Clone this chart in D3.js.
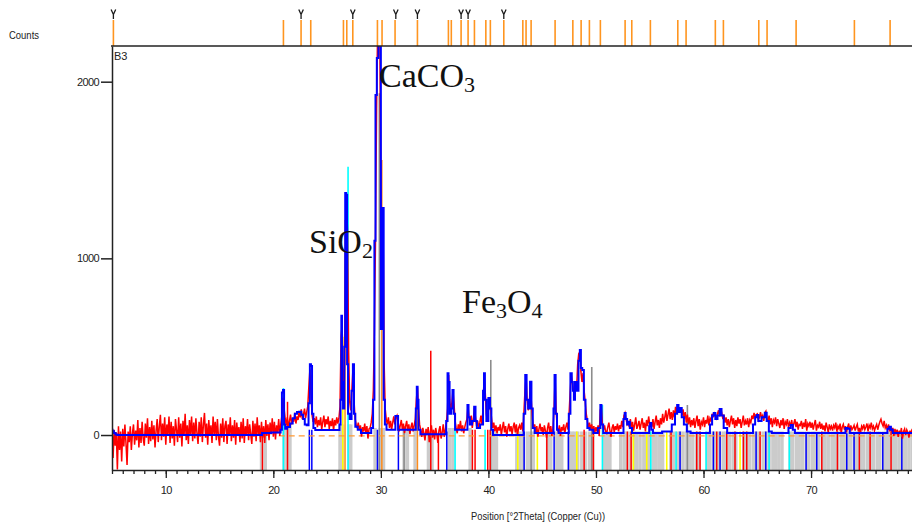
<!DOCTYPE html>
<html><head><meta charset="utf-8">
<script src="https://cdn.jsdelivr.net/npm/d3@7"></script>
<style>
html,body{margin:0;padding:0;background:#fff;}
svg{display:block;}
.small{font-family:"Liberation Sans","Arial",sans-serif;fill:#222;}
.phase{font-family:"Liberation Serif","Times New Roman",serif;fill:#111;}
</style></head><body>
<svg id="chart" width="912" height="525"></svg>
<script>
// Scan B3, observed counts every 0.1 °2θ starting at 5.0
const obsStart = 5.0, obsStep = 0.1;
const observedCounts = [
  45,-130,30,-60,15,-195,50,-85,20,-150,      // 5
  35,-65,60,-45,-170,20,-40,50,-85,10,        // 6
  60,-55,25,-30,85,-70,40,-45,75,-20,         // 7
  -60,65,-15,95,-50,45,-35,80,-25,55,         // 8
  -70,25,90,-40,50,115,-30,65,-10,100,        // 9
  -55,60,-5,105,-45,75,-20,50,-60,90,         // 10
  30,-40,100,-15,65,-65,80,-5,120,-30,        // 11
  55,-50,85,0,105,-35,70,-20,95,10,           // 12
  -50,75,-10,100,-40,60,125,-15,65,-55,       // 13
  85,-5,55,-45,105,5,75,-30,90,-10,           // 14
  -60,65,-15,95,-40,50,80,-50,60,-5,          // 15
  100,-35,55,-15,85,-55,70,0,45,-40,          // 16
  75,-20,95,-45,50,-5,90,-30,60,5,            // 17
  -50,80,-10,65,-35,100,0,55,-40,75,          // 18
  -15,50,-45,85,-5,60,-30,70,5,95,            // 19
  -10,75,-25,55,10,90,-5,65,110,210,          // 20
  150,95,55,100,40,80,115,60,95,75,           // 21
  125,65,105,85,135,100,145,90,115,150,       // 22
  95,130,160,270,370,240,115,75,95,60,        // 23
  105,45,85,55,100,30,75,110,45,90,           // 24
  60,105,35,80,50,95,25,85,55,100,            // 25
  65,95,160,560,620,230,320,950,1340,1150,    // 26
  480,190,140,250,370,200,95,60,40,70,        // 27
  30,55,-10,45,20,65,10,50,-20,35,            // 28
  40,70,120,250,600,1100,1850,2300,2350,2300, // 29
  1400,900,1250,420,150,90,60,100,40,80,      // 30
  30,70,105,60,95,110,75,20,55,85,            // 31
  30,65,10,50,80,25,60,5,45,70,               // 32
  20,55,90,200,270,150,60,30,-10,40,          // 33
  10,-30,35,0,45,-40,20,55,-15,30,            // 34
  -25,40,5,-45,25,50,-20,15,60,-10,           // 35
  30,70,150,340,200,140,180,250,180,80,       // 36
  40,10,60,30,80,20,55,10,45,70,              // 37
  90,165,100,60,110,40,90,155,100,50,         // 38
  80,40,70,110,60,150,340,250,120,80,         // 39
  140,200,150,90,40,70,20,55,10,45,           // 40
  25,60,0,40,75,15,50,-10,35,65,              // 41
  20,50,5,45,70,15,60,-5,40,55,               // 42
  30,70,20,130,250,330,200,140,170,300,       // 43
  180,90,40,60,15,50,-10,35,65,20,            // 44
  45,0,55,25,-15,40,70,10,50,-5,              // 45
  40,140,330,130,40,15,55,-5,45,25,           // 46
  60,10,45,70,30,120,240,340,300,260,         // 47
  210,290,260,400,460,470,360,300,350,250,    // 48
  190,120,80,40,70,30,60,25,50,15,            // 49
  45,20,55,-5,140,165,60,30,55,20,            // 50
  10,45,70,25,-10,40,60,15,50,30,             // 51
  65,20,55,35,80,45,110,125,90,60,            // 52
  70,45,90,40,75,25,60,100,35,55,             // 53
  80,30,65,95,40,70,20,85,50,105,             // 54
  60,65,45,90,35,75,110,55,85,40,             // 55
  95,60,120,70,100,140,80,115,150,90,         // 56
  130,85,140,100,160,120,170,150,135,155,     // 57
  110,145,90,130,70,115,60,100,45,85,         // 58
  55,95,40,80,110,50,90,30,75,60,             // 59
  100,45,85,65,110,55,95,80,120,100,          // 60
  130,110,95,120,140,105,150,125,90,115,      // 61
  70,100,55,90,45,80,110,60,95,40,            // 62
  85,50,100,65,90,40,75,110,55,80,            // 63
  60,95,45,85,70,110,90,125,100,115,          // 64
  120,85,100,130,95,110,80,125,135,95,        // 65
  80,110,60,95,45,85,70,100,50,90,            // 66
  65,40,85,55,95,35,75,60,90,45,              // 67
  70,50,85,40,65,90,45,75,30,60,              // 68
  55,80,35,70,45,90,25,65,50,75,              // 69
  40,70,30,60,85,25,55,45,75,35,              // 70
  65,30,55,20,70,45,15,60,35,50,              // 71
  25,55,40,70,20,50,35,65,10,45,              // 72
  60,30,50,15,45,65,20,55,30,40,              // 73
  55,25,45,60,20,40,10,50,35,60,              // 74
  30,45,65,20,55,40,70,35,50,25,              // 75
  45,60,30,55,75,90,65,50,80,40,              // 76
  55,30,60,20,45,15,40,-5,35,10,              // 77
  30,-10,25,5,40,-20,20,35,0,30,              // 78
  15,-15,25,5,35,-25,20,0,30,10               // 79
];

// Calculated profile, [°2θ, counts]
const calcProfile = [
  [5.0,30],[5.1,22],[5.25,12],[5.4,3],[5.6,0],[18.9,0],[19.0,12],[20.6,14],[20.75,30],
  [20.85,240],[20.95,255],[21.05,60],[21.15,35],[21.4,45],[21.7,65],[21.9,95],[22.1,120],
  [22.3,130],[22.5,132],[22.7,115],[22.85,90],[23.0,60],[23.2,55],[23.35,180],[23.45,400],
  [23.55,390],[23.65,120],[23.8,40],[24.0,28],[26.1,28],[26.2,60],[26.3,200],[26.35,675],
  [26.42,300],[26.55,150],[26.65,500],[26.72,1370],[26.82,1360],[26.9,400],[27.0,120],
  [27.2,90],[27.35,250],[27.45,400],[27.55,120],[27.7,47],[28.0,30],[28.3,12],[29.0,12],
  [29.2,40],[29.35,200],[29.45,1100],[29.55,1925],[29.7,2134],[29.85,2450],[29.95,2450],
  [30.05,600],[30.15,1285],[30.22,1285],[30.3,200],[30.45,60],[30.6,30],[31.3,30],
  [31.4,108],[31.55,108],[31.65,30],[33.2,30],[33.3,150],[33.38,273],[33.45,200],
  [33.55,30],[33.8,5],[36.0,5],[36.15,80],[36.25,350],[36.33,300],[36.45,120],[36.6,150],
  [36.72,255],[36.8,120],[37.0,30],[38.0,30],[38.1,170],[38.2,100],[38.35,60],[38.6,80],
  [38.75,160],[38.85,80],[39.0,40],[39.45,60],[39.55,250],[39.63,350],[39.72,200],
  [39.9,80],[40.1,210],[40.2,150],[40.35,30],[40.5,0],[43.2,0],[43.35,120],[43.5,340],
  [43.6,200],[43.8,150],[43.95,302],[44.05,150],[44.2,40],[44.4,11],[46.0,11],[46.1,150],
  [46.2,340],[46.3,120],[46.45,30],[46.6,11],[47.4,11],[47.55,120],[47.7,350],[47.8,300],
  [47.9,250],[48.0,200],[48.1,300],[48.3,250],[48.45,420],[48.55,481],[48.65,380],
  [48.8,368],[48.95,200],[49.1,90],[49.3,40],[49.5,30],[50.0,11],[50.35,40],[50.47,170],
  [50.55,60],[50.8,11],[52.5,11],[52.62,90],[52.72,125],[52.8,90],[53.0,60],[53.1,75],
  [53.2,40],[53.5,11],[54.9,11],[55.0,50],[55.1,68],[55.2,30],[55.4,11],[56.9,20],
  [57.2,60],[57.5,120],[57.6,170],[57.75,130],[57.9,153],[58.05,100],[58.3,60],[58.6,20],
  [59.0,11],[60.5,11],[60.7,60],[60.9,110],[61.0,124],[61.2,90],[61.4,110],[61.6,147],
  [61.75,110],[62.0,40],[62.4,11],[64.5,11],[64.7,60],[64.9,100],[65.0,113],[65.2,80],
  [65.6,100],[65.8,126],[65.95,80],[66.2,20],[66.5,11],[67.8,11],[68.0,40],[68.2,57],
  [68.4,30],[68.6,11],[73.1,11],[73.3,40],[73.5,35],[73.7,11],[77.0,11],[77.2,35],
  [77.35,47],[77.5,30],[77.7,11],[80.0,11]
];

// Reference pattern lines shown in the strip above the plot (°2θ)
const refPattern = [5.13,20.94,22.58,23.48,26.52,26.83,27.39,29.68,30.11,31.32,33.40,36.28,
  36.55,37.46,38.11,38.70,39.76,40.18,41.43,43.20,43.50,43.97,46.20,47.85,48.62,49.39,
  50.41,52.71,53.33,55.06,57.61,58.38,61.10,61.85,65.14,65.91,68.61,74.03,77.35];
// Peak markers above the strip (°2θ)
const peakMarks = [5.13,22.58,27.39,31.39,33.40,37.46,38.11,41.43];

// Stick patterns of the identified phases, [°2θ, relative height in counts]
const grayWide = [[18.9,40],[19.25,40],[21.0,60],[21.3,60],[21.55,60],[26.2,60],[26.45,60],
  [27.05,60],[27.2,60],[29.46,40],[29.93,40],[30.18,40],[30.25,40],[32.16,40],[32.47,40],
  [33.18,40],[34.42,0],[34.58,0],[34.76,0],[36.37,40],[36.69,40],[38.3,40],[40.46,20],
  [40.75,20],[42.64,20],[42.95,20],[43.25,20],[43.62,20],[43.9,20],[44.18,20],
  [45.5,20],[45.8,20],[46.36,20],[46.6,20],[46.82,20],[47.5,20],[47.75,20],[48.0,20],
  [48.3,20],[48.68,20],[49.0,20],[49.39,20],[49.7,20],[50.8,20],[51.05,20],[51.3,20],
  [52.3,20],[52.62,20],[52.88,20],[53.2,20],[53.55,20],[53.8,20],[54.1,20],[54.45,20],
  [54.7,20],[55.0,20],[55.35,20],[55.6,20],[55.9,20],[56.2,20],[56.95,20],[57.2,20],
  [57.55,20],[57.8,20],[58.1,20],[58.45,20],[58.7,20],[59.0,20],[59.35,20],[59.6,20],
  [60.35,20],[60.6,20],[60.95,20],[61.2,20],[61.5,20],[61.85,20],[62.1,20],[62.4,20],
  [62.75,20],[63.0,20],[63.75,20],[64.0,20],[64.3,20],[64.65,20],[64.9,20],[65.2,20],
  [65.55,20],[65.8,20],[66.1,20],[66.45,20],[66.7,20],[67.0,20],[67.3,20],[68.05,20],
  [68.3,20],[68.65,20],[68.9,20],[69.2,20],[69.55,20],[69.8,20],[70.15,20],[70.4,20],
  [70.7,20],[71.05,20],[71.3,20],[71.6,20],[71.95,20],[72.2,20],[72.5,20],[72.85,20],
  [73.1,20],[73.45,20],[73.7,20],[74.05,20],[74.3,20],[74.6,20],[74.9,20],[75.25,20],
  [75.5,20],[75.8,20],[76.15,20],[76.4,20],[76.75,20],[77.0,20],[77.3,20],[77.65,20],
  [77.9,20],[78.2,20],[78.55,20],[78.8,20],[79.1,20],[79.4,20]];
const grayDark = [[29.86,1935],[32.16,50],[40.22,425],[43.97,283],[49.61,385],[58.5,170]];
const redSticks = [[18.99,20],[21.32,188],[34.64,477],[35.35,0],[38.51,30],[38.76,30],
  [39.94,30],[40.16,30],[45.43,20],[48.9,30],[49.76,30],[52.92,20],[53.27,20],[56.98,20],
  [59.37,20],[59.68,20],[61.23,20],[62.16,20],[62.93,20],[63.71,20],[64.02,20],[65.26,20],
  [71.0,20],[72.45,20],[74.49,20],[75.49,20],[77.44,20]];
const blueSticks = [[23.35,30],[23.58,30],[29.68,30],[31.63,30],[36.13,20],[43.32,20],
  [46.11,20],[47.44,20],[57.82,20],[60.92,20],[61.54,20],[64.89,20],[65.79,20],[69.54,10],
  [70.53,10],[73.32,10],[74.0,10],[76.67,10],[78.44,10]];
const cyanSticks = [[20.94,266],[26.95,1519],[36.9,30],[39.69,30],[50.6,170],[55.1,20],
  [57.45,20],[60.24,20],[66.1,20],[67.98,20]];
const yellowSticks = [[26.46,556],[42.73,20],[44.55,20],[48.22,20],[53.48,20],[54.72,20],
  [56.58,20],[63.4,20]];
const orangeSticks = [[26.67,1217],[30.09,1557],[33.4,200]];

// Axis ticks
const yTicks = [0, 1000, 2000];
const xMajor = [10, 20, 30, 40, 50, 60, 70];
const xMinor = d3.range(5, 80, 1);

const svg = d3.select("#chart");
const x = d3.scaleLinear().domain([5, 80]).range([112, 918.6]);
const y = d3.scaleLinear().domain([-198, 2202]).range([470, 46]);
const yBottom = y.domain()[0];

svg.append("defs").append("clipPath").attr("id", "plotClip")
  .append("rect").attr("x", 112).attr("y", 46).attr("width", 800).attr("height", 424);

const plot = svg.append("g").attr("clip-path", "url(#plotClip)");

function sticks(data, color, width) {
  plot.append("g").selectAll("line").data(data).join("line")
    .attr("x1", d => x(d[0])).attr("x2", d => x(d[0]))
    .attr("y1", y(yBottom)).attr("y2", d => y(d[1]))
    .attr("stroke", color).attr("stroke-width", width);
}

sticks(grayWide, "#cbcbcb", 3.4);
sticks(grayDark, "#8c8c8c", 1.6);
sticks(redSticks, "#ff0000", 1.5);
sticks(blueSticks, "#0000ff", 1.5);
sticks(yellowSticks, "#ffff00", 1.6);
sticks(cyanSticks, "#00ffff", 1.6);
sticks(orangeSticks, "#ff8c1a", 1.5);

// background level of the orange phase
plot.append("line")
  .attr("x1", x(20.5)).attr("x2", x(80)).attr("y1", y(-5)).attr("y2", y(-5))
  .attr("stroke", "#ff9933").attr("stroke-width", 1.2).attr("stroke-dasharray", "6,4");

// observed scan
plot.append("path")
  .datum(observedCounts)
  .attr("d", d3.line().x((d, i) => x(obsStart + i * obsStep)).y(d => y(d)))
  .attr("fill", "none").attr("stroke", "#ff0000").attr("stroke-width", 1.5);

// calculated profile
plot.append("path")
  .datum(calcProfile)
  .attr("d", d3.line().x(d => x(d[0])).y(d => y(d[1])).curve(d3.curveStep))
  .attr("fill", "none").attr("stroke", "#0000ff").attr("stroke-width", 2);

// axes
const xMinorAxis = svg.append("g").attr("transform", `translate(0,${y(yBottom)})`)
  .call(d3.axisBottom(x).tickValues(xMinor).tickSize(4).tickSizeOuter(0).tickFormat(""));
xMinorAxis.select(".domain").remove();
const xMajorAxis = svg.append("g").attr("transform", `translate(0,${y(yBottom)})`)
  .call(d3.axisBottom(x).tickValues(xMajor).tickSize(8).tickSizeOuter(0).tickPadding(8)
    .tickFormat(d3.format("d")));
xMajorAxis.select(".domain").attr("stroke", "#222").attr("stroke-width", 1.5);
svg.selectAll(".tick line").attr("stroke", "#222").attr("stroke-width", 1.3);
xMajorAxis.selectAll("text").attr("class", "small").attr("font-size", 11)
  .attr("letter-spacing", "-0.6px").attr("fill", "#222");

const yAxis = svg.append("g").attr("transform", "translate(112,0)")
  .call(d3.axisLeft(y).tickValues(yTicks).tickSize(11).tickSizeOuter(0).tickPadding(2)
    .tickFormat(d3.format("d")));
yAxis.select(".domain").attr("stroke", "#222").attr("stroke-width", 1.5);
yAxis.selectAll(".tick line").attr("stroke", "#222").attr("stroke-width", 1.5);
yAxis.selectAll("text").attr("class", "small").attr("font-size", 11)
  .attr("letter-spacing", "-0.6px").attr("fill", "#222");

// strip with reference lines above the plot
svg.append("g").selectAll("line").data(refPattern).join("line")
  .attr("x1", d => x(d)).attr("x2", d => x(d)).attr("y1", 20).attr("y2", 46)
  .attr("stroke", "#ff951f").attr("stroke-width", 1.6);
svg.append("g").selectAll("path").data(peakMarks).join("path")
  .attr("d", d => `M${x(d) - 2.3},9.5L${x(d)},14.5L${x(d) + 2.3},9.5M${x(d)},14.5V19`)
  .attr("fill", "none").attr("stroke", "#1a1a1a").attr("stroke-width", 1.3);
svg.append("line").attr("x1", 111).attr("x2", 912).attr("y1", 46).attr("y2", 46)
  .attr("stroke", "#222").attr("stroke-width", 1.5);

svg.append("text").attr("class", "small").attr("x", 9).attr("y", 39)
  .attr("font-size", 11).attr("textLength", 30).attr("lengthAdjust", "spacingAndGlyphs")
  .text("Counts");
svg.append("text").attr("class", "small").attr("x", 114).attr("y", 60)
  .attr("font-size", 11).text("B3");
svg.append("text").attr("class", "small").attr("x", 471).attr("y", 520)
  .attr("font-size", 11).attr("textLength", 134).attr("lengthAdjust", "spacingAndGlyphs")
  .text("Position [°2Theta] (Copper (Cu))");

// phase labels with subscripted counts of atoms
function formula(xp, yp, parts) {
  const t = svg.append("text").attr("class", "phase").attr("x", xp).attr("y", yp).attr("font-size", 34);
  let lowered = false;
  parts.forEach(([s, sub]) => {
    const dy = sub ? (lowered ? 0 : 5) : (lowered ? -5 : 0);
    lowered = !!sub;
    const ts = t.append("tspan").attr("dy", dy).text(s);
    if (sub) ts.attr("font-size", 22);
  });
}
formula(379, 87, [["CaCO"], ["3", true]]);
formula(309, 253, [["SiO"], ["2", true]]);
formula(462, 313, [["Fe"], ["3", true], ["O"], ["4", true]]);
</script></body></html>
